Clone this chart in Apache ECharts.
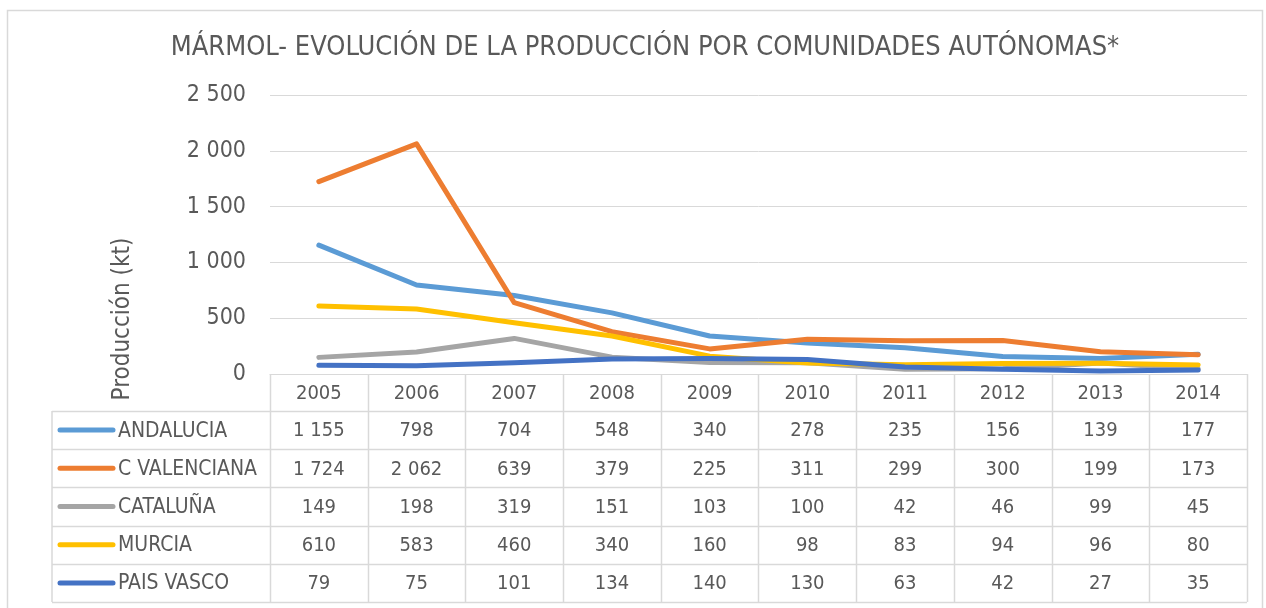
<!DOCTYPE html>
<html>
<head>
<meta charset="utf-8">
<script src="https://cdn.jsdelivr.net/npm/echarts@6/dist/echarts.min.js"></script>
<style>
  html, body { margin: 0; padding: 0; background: #fff; }
  #main { width: 1266px; height: 608px; }
</style>
</head>
<body>
<div id="main"></div>
<script>
  // datos (kt)
  const years = ['2005', '2006', '2007', '2008', '2009', '2010', '2011', '2012', '2013', '2014'];
  const andalucia = [1155, 798, 704, 548, 340, 278, 235, 156, 139, 177];
  const cValenciana = [1724, 2062, 639, 379, 225, 311, 299, 300, 199, 173];
  const cataluna = [149, 198, 319, 151, 103, 100, 42, 46, 99, 45];
  const murcia = [610, 583, 460, 340, 160, 98, 83, 94, 96, 80];
  const paisVasco = [79, 75, 101, 134, 140, 130, 63, 42, 27, 35];
  const regionNames = ['ANDALUCIA', 'C VALENCIANA', 'CATALUÑA', 'MURCIA', 'PAIS VASCO'];
  const yTicks = [0, 500, 1000, 1500, 2000, 2500];

  const regionData = [andalucia, cValenciana, cataluna, murcia, paisVasco];
  const colors = ['#5B9BD5', '#ED7D31', '#A5A5A5', '#FFC000', '#4472C4'];
  const textColor = '#595959';
  const lineColor = '#d9d9d9';
  const font = '"DejaVu Sans Condensed", "DejaVu Sans"';

  // 1 155 -> separador de miles con espacio
  function fmt(v) {
    return String(v).replace(/\B(?=(\d{3})+(?!\d))/g, ' ');
  }

  let chart = echarts.init(document.getElementById('main'));

  chart.setOption({
    animation: false,
    grid: { left: 270, right: 19, top: 95, bottom: 234 },
    xAxis: {
      type: 'category',
      data: years,
      boundaryGap: true,
      axisLabel: { show: false },
      axisTick: { show: false },
      axisLine: { lineStyle: { color: lineColor, width: 1 } }
    },
    yAxis: {
      type: 'value',
      min: yTicks[0],
      max: yTicks[yTicks.length - 1],
      interval: yTicks[1] - yTicks[0],
      axisLabel: { formatter: fmt, color: textColor, fontSize: 23, fontFamily: font, margin: 24 },
      axisLine: { show: false },
      axisTick: { show: false },
      splitLine: { lineStyle: { color: lineColor, width: 1 } }
    },
    series: regionNames.map((name, i) => ({
      name: name,
      type: 'line',
      data: regionData[i],
      symbol: 'none',
      color: colors[i],
      lineStyle: { width: 5, cap: 'round', join: 'round', color: colors[i] }
    }))
  });

  // tabla de datos debajo del grafico
  const x0 = chart.convertToPixel({ xAxisIndex: 0 }, 0);
  const x1 = chart.convertToPixel({ xAxisIndex: 0 }, 1);
  const step = x1 - x0;
  const tableLeft = 52;
  const colLeft = x0 - step / 2;
  const tableRight = colLeft + step * years.length;
  const headTop = chart.convertToPixel({ yAxisIndex: 0 }, 0);
  const headH = 37;
  const rowH = 38.2;
  const bodyTop = headTop + headH;

  const g = [];
  // marco exterior
  g.push({ type: 'rect', shape: { x: 7.5, y: 10.5, width: 1255, height: 620 },
    style: { fill: null, stroke: lineColor, lineWidth: 1.5 }, silent: true });
  // titulo
  g.push({ type: 'text', x: 645, y: 48, style: {
    text: 'MÁRMOL- EVOLUCIÓN DE LA PRODUCCIÓN POR COMUNIDADES AUTÓNOMAS*',
    fill: textColor, font: '27px ' + font, align: 'center', verticalAlign: 'middle' } });
  // titulo eje y
  g.push({ type: 'text', x: 123, y: 319, rotation: Math.PI / 2, style: {
    text: 'Producción (kt)', fill: textColor, font: '24px ' + font,
    align: 'center', verticalAlign: 'middle' } });

  // lineas horizontales
  for (let r = 0; r <= regionNames.length; r++) {
    const y = Math.round(bodyTop + r * rowH) + 0.5;
    g.push({ type: 'line', shape: { x1: tableLeft, y1: y, x2: tableRight, y2: y },
      style: { stroke: lineColor, lineWidth: 1.5 } });
  }
  // lineas verticales
  const bottom = bodyTop + regionNames.length * rowH;
  g.push({ type: 'line', shape: { x1: tableLeft, y1: bodyTop, x2: tableLeft, y2: bottom },
    style: { stroke: lineColor, lineWidth: 1.5 } });
  for (let c = 0; c <= years.length; c++) {
    const x = Math.round(colLeft + c * step) + 0.5;
    g.push({ type: 'line', shape: { x1: x, y1: headTop, x2: x, y2: bottom },
      style: { stroke: lineColor, lineWidth: 1.5 } });
  }
  // cabecera: años
  years.forEach((yr, c) => {
    g.push({ type: 'text', x: chart.convertToPixel({ xAxisIndex: 0 }, c), y: headTop + headH / 2 + 1,
      style: { text: yr, fill: textColor, font: '20px ' + font, align: 'center', verticalAlign: 'middle' } });
  });
  // filas
  regionNames.forEach((name, r) => {
    const cy = bodyTop + r * rowH + rowH / 2;
    g.push({ type: 'line', shape: { x1: 60, y1: cy, x2: 113, y2: cy },
      style: { stroke: colors[r], lineWidth: 5, lineCap: 'round' } });
    g.push({ type: 'text', x: 118, y: cy + 1, style: {
      text: name, fill: textColor, font: '21px ' + font, align: 'left', verticalAlign: 'middle' } });
    regionData[r].forEach((v, c) => {
      g.push({ type: 'text', x: chart.convertToPixel({ xAxisIndex: 0 }, c), y: cy + 1, style: {
        text: fmt(v), fill: textColor, font: '20px ' + font, align: 'center', verticalAlign: 'middle' } });
    });
  });

  chart.setOption({ graphic: { elements: g } });
</script>
</body>
</html>
